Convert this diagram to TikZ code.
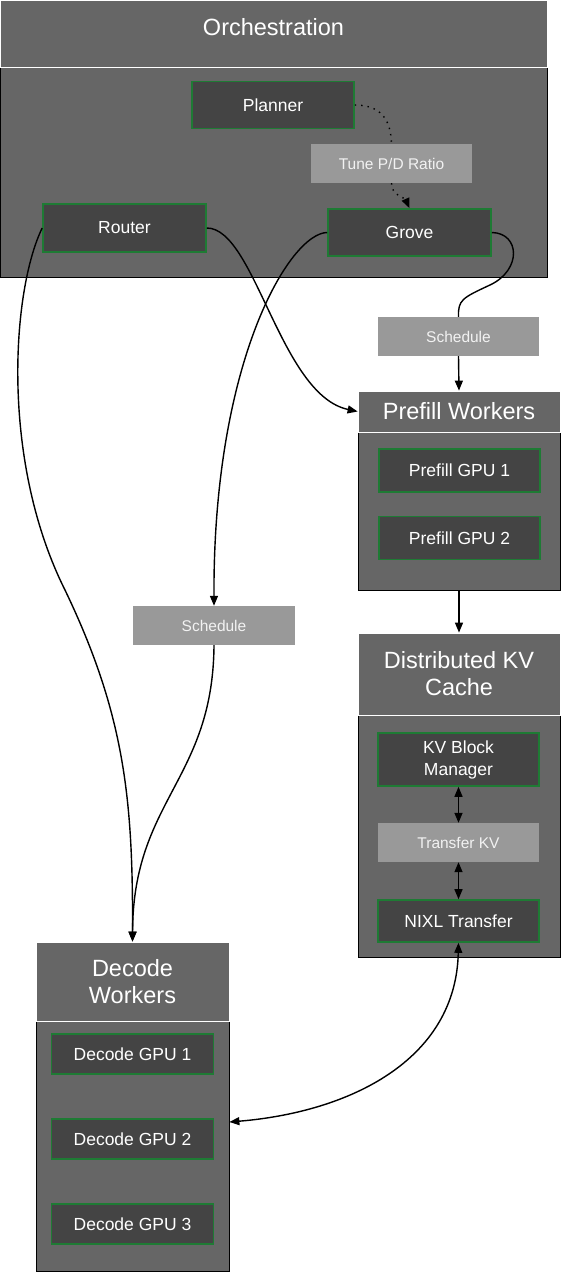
\documentclass[tikz,border=0pt]{standalone}
\usepackage{fontspec}
\setmainfont{Liberation Sans}
\usetikzlibrary{calc, shapes, arrows, arrows.meta}
\usepackage{xcolor}
\definecolor{clustergray}{HTML}{666666}
\definecolor{boxgray}{HTML}{444444}
\definecolor{boxgreen}{HTML}{1E7B34}
\definecolor{labelgray}{HTML}{999999}
\newcommand{\myfonthead}{\fontsize{23.5}{27}\selectfont}
\newcommand{\myfontbox}{\fontsize{17.5}{22}\selectfont}
\newcommand{\myfontlabel}{\fontsize{15.5}{18}\selectfont}

\begin{document}
\begin{tikzpicture}[x=1pt, y=-1pt,
	clusterhead/.style={draw=white, line width=0.8pt, fill=clustergray, text=white, inner sep=0pt, align=center, font=\myfonthead},
	clusterbody/.style={draw=black, line width=0.8pt, fill=clustergray, inner sep=0pt},
	gpubox/.style={draw=boxgreen, line width=1.6pt, fill=boxgray, text=white, minimum width=161pt, minimum height=42pt, inner sep=0pt, align=center, font=\myfontbox},
	edgelabel/.style={fill=labelgray, text=white!95!black, minimum width=161pt, minimum height=39pt, inner sep=0pt, font=\myfontlabel},
	flow/.style={line width=1.4pt, -{Triangle[length=10pt,width=8pt]}},
	flowboth/.style={line width=1.4pt, {Triangle[length=10pt,width=8pt]}-{Triangle[length=10pt,width=8pt]}},
	plain/.style={line width=1.4pt},
	dotflow/.style={line width=1.4pt, dash pattern=on 1.4pt off 5pt}
	]
	%Page
	\fill[white] (0,0) rectangle (567,1279);
	\useasboundingbox (0,0) rectangle (567,1279);
	%Orchestration cluster
	\node [clusterbody, minimum width=547pt, minimum height=210pt] (orchBody) at (273.5,172) {};
	\node [clusterhead, minimum width=547pt, minimum height=67pt] (orchHead) at (273.5,33.5) {};
	\node [text=white, font=\myfonthead] (orchTitle) at (273.5,27) {Orchestration};
	\node [gpubox, minimum width=162pt, minimum height=47pt] (planner) at (273,105) {Planner};
	\node [gpubox, minimum width=163pt, minimum height=48pt] (router) at (124.5,228) {Router};
	\node [gpubox, minimum width=163pt, minimum height=47pt] (grove) at (409.5,232.5) {Grove};
	\node [edgelabel] (tune) at (391.5,163.5) {Tune P/D Ratio};
	%Prefill cluster
	\node [clusterbody, minimum width=202pt, minimum height=158pt] (prefillBody) at (459,511) {};
	\node [clusterhead, minimum width=202pt, minimum height=41pt] (prefillHead) at (459,411.5) {Prefill Workers};
	\foreach \i/\y in {1/470.5, 2/538} {
		\node [gpubox, minimum height=43pt] (pgpu\i) at (459.5,\y) {Prefill GPU \i};
	}
	\node [edgelabel] (schedR) at (458.5,336.5) {Schedule};
	%Distributed KV cache cluster
	\node [clusterbody, minimum width=202pt, minimum height=242pt] (kvBody) at (459,836) {};
	\node [clusterhead, minimum width=202pt, minimum height=82pt] (kvHead) at (459,674) {Distributed KV\\Cache};
	\node [gpubox, minimum height=53pt] (kvbm) at (458.5,759.5) {KV Block\\Manager};
	\node [edgelabel] (transferKV) at (458.5,842.5) {Transfer KV};
	\node [gpubox] (nixl) at (458.5,921) {NIXL Transfer};
	%Decode cluster
	\node [clusterbody, minimum width=193pt, minimum height=250pt] (decBody) at (132.5,1146) {};
	\node [clusterhead, minimum width=193pt, minimum height=79pt] (decHead) at (132.5,981.5) {Decode\\Workers};
	\foreach \i/\y in {1/1054, 2/1139, 3/1224} {
		\node [gpubox, minimum width=162pt, minimum height=40pt] (dgpu\i) at (132.5,\y) {Decode GPU \i};
	}
	\node [edgelabel, minimum width=162pt] (schedL) at (214,625.5) {Schedule};
	%Planner to Grove through the tuning label
	\draw [dotflow] (planner.east) .. controls (385,105) and (391,125) .. (tune.north);
	\draw [dotflow, -{Triangle[length=10pt,width=8pt]}] (tune.south) .. controls (391,195) and (405,198) .. (grove.north);
	%Router to the workers
	\draw [flow] (router.west) .. controls (12,290) and (0,460) .. (65,590) .. controls (125,715) and (133,800) .. (decHead.north);
	\draw [flow] (router.east) .. controls (255,228) and (280,395) .. (prefillHead.west);
	%Grove to the schedule labels
	\draw [flow] (grove.west) .. controls (290,233) and (213,360) .. (schedL.north);
	\draw [flow] (schedL.south) .. controls (213,780) and (133,800) .. (decHead.north);
	\draw [plain] (grove.east) .. controls (520,233) and (522,270) .. (490,285) .. controls (462,298) and (458,300) .. (schedR.north);
	\draw [flow] (schedR.south) -- (prefillHead.north);
	%Prefill to cache and cache to decode
	\draw [flow] (prefillBody.south) -- (kvHead.north);
	\draw [flowboth] (kvbm.south) -- (transferKV.north);
	\draw [flowboth] (transferKV.south) -- (nixl.north);
	\draw [flowboth] (nixl.south) .. controls (456,1060) and (350,1112) .. ([yshift=24pt]decBody.east);
\end{tikzpicture}
\end{document}
